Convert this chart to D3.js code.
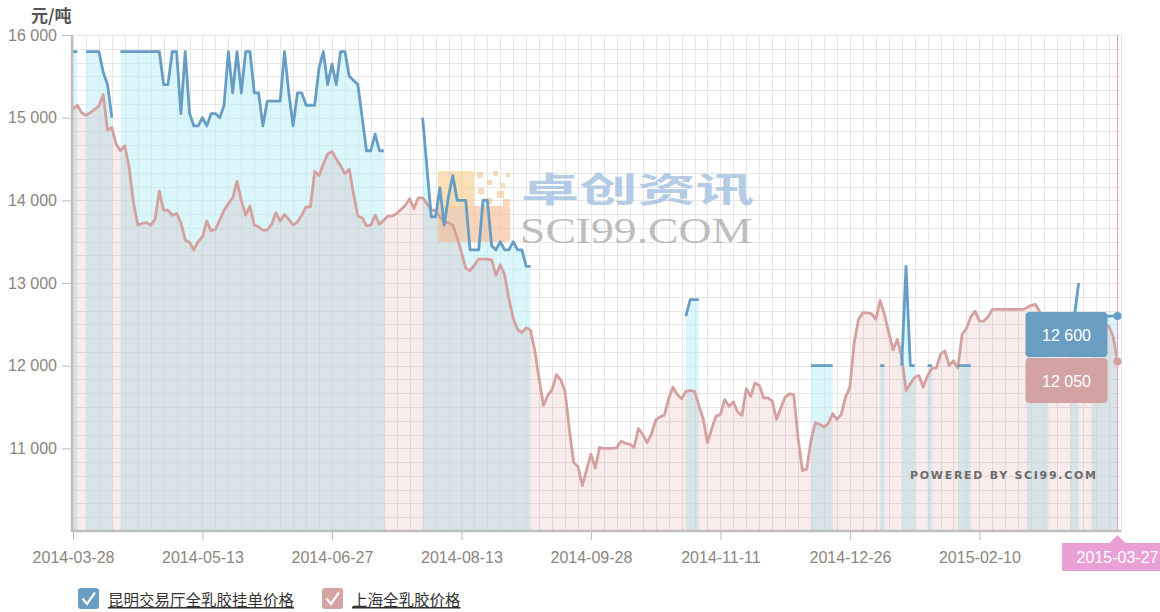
<!DOCTYPE html>
<html>
<head>
<meta charset="utf-8">
<script src="https://cdn.jsdelivr.net/npm/d3@7"></script>
<style>
  body { margin: 0; background: #fff; }
  text { font-family: "Liberation Sans", Arial, sans-serif; }
  .cjk { font-family: "Noto Sans CJK SC", "Liberation Sans", sans-serif; }
</style>
</head>
<body>
<div id="chart"></div>
<script>
// series values, one per trading day (null = no quote)
var kunmingPrice = [
  15800, 15800, null, 15800, 15800, 15800, 15800, 15550, 15400, 15000,
  null, 15800, 15800, 15800, 15800, 15800, 15800, 15800, 15800, 15800,
  15800, 15400, 15400, 15800, 15800, 15050, 15800, 15050, 14900, 14900,
  15000, 14900, 15050, 15050, 15000, 15150, 15800, 15300, 15800, 15300,
  15800, 15800, 15300, 15300, 14900, 15200, 15200, 15200, 15200, 15800,
  15300, 14900, 15300, 15300, 15150, 15150, 15150, 15600, 15800, 15400,
  15650, 15400, 15800, 15800, 15500, 15450, 15400, 15000, 14600, 14600,
  14800, 14600, 14600, null, null, null, null, null, null, null,
  null, 15000, 14400, 13800, 13800, 14150, 13700, 14050, 14300, 14000,
  14000, 14000, 13400, 13400, 13400, 14000, 14000, 13450, 13400, 13500,
  13400, 13400, 13500, 13400, 13400, 13200, 13200, null, null, null,
  null, null, null, null, null, null, null, null, null, null,
  null, null, null, null, null, null, null, null, null, null,
  null, null, null, null, null, null, null, null, null, null,
  null, null, 12600, 12800, 12800, 12800, null, null, null, null,
  null, null, null, null, null, null, null, null, null, null,
  null, null, null, null, null, null, null, null, null, null,
  null, 12000, 12000, 12000, 12000, 12000, 12000, null, null, null,
  null, null, null, null, null, null, null, 12000, 12000, null,
  null, null, 12000, 13200, 12000, 12000, null, null, 12000, 12000,
  null, null, null, null, null, 12000, 12000, 12000, 12000, null,
  null, null, null, null, null, null, null, null, null, null,
  null, 12600, 12600, 12600, 12600, 12600, 12600, null, null, null,
  null, 12600, 12600, 13000, null, null, 12600, 12600, 12600, 12600,
  12600, 12600, 12600
];

var shanghaiPrice = [
  15110, 15150, 15060, 15030, 15060, 15100, 15140, 15280, 14850, 14880,
  14680, 14600, 14660, 14400, 13980, 13700, 13720, 13730, 13700, 13770,
  14110, 13880, 13880, 13820, 13840, 13730, 13520, 13490, 13400, 13500,
  13560, 13750, 13630, 13650, 13760, 13880, 13960, 14030, 14230, 14000,
  13820, 13930, 13700, 13680, 13640, 13640, 13710, 13850, 13750, 13830,
  13770, 13700, 13740, 13820, 13920, 13920, 14350, 14300, 14440, 14560,
  14590, 14500, 14420, 14320, 14380, 14080, 13810, 13790, 13690, 13700,
  13820, 13710, 13760, 13810, 13810, 13840, 13890, 13940, 14020, 13900,
  14030, 14030, 13960, 13880, 13880, 13800, 13740, 13730, 13700, 13550,
  13370, 13180, 13150, 13220, 13290, 13290, 13290, 13280, 13090, 13220,
  13100, 12810, 12570, 12440, 12400, 12460, 12430, 12180, 11840, 11520,
  11640, 11710, 11890, 11830, 11690, 11230, 10830, 10780, 10550, 10740,
  10930, 10760, 11010, 11000, 11000, 11000, 11010, 11090, 11060, 11050,
  11010, 11240, 11170, 11070, 11170, 11340, 11380, 11400, 11600, 11740,
  11650, 11600, 11690, 11700, 11690, 11520, 11360, 11070, 11240, 11390,
  11410, 11590, 11510, 11560, 11440, 11400, 11720, 11630, 11790, 11760,
  11610, 11610, 11570, 11350, 11490, 11620, 11660, 11650, 11120, 10730,
  10750, 11100, 11310, 11290, 11260, 11300, 11420, 11350, 11410, 11620,
  11740, 12280, 12560, 12640, 12640, 12630, 12560, 12790, 12620, 12400,
  12190, 12320, 12110, 11700, 11780, 11860, 11880, 11740, 11880, 11970,
  11970, 12140, 12180, 12000, 12060, 11970, 12380, 12450, 12590, 12660,
  12540, 12540, 12590, 12680, 12680, 12680, 12680, 12680, 12680, 12680,
  12680, 12700, 12730, 12740, 12650, 12550, 12550, 12600, 12600, 12550,
  12500, 12500, 12450, 12500, 12500, 12450, 12450, 12450, 12450, 12450,
  12480, 12350, 12050
];

var tickLabels = ["2014-03-28", "2014-05-13", "2014-06-27", "2014-08-13",
                  "2014-09-28", "2014-11-11", "2014-12-26", "2015-02-10"];
var tickStep = 30;
var lastDate = "2015-03-27";
var yTicks = [11000, 12000, 13000, 14000, 15000, 16000];
var seriesNames = ["昆明交易厅全乳胶挂单价格", "上海全乳胶价格"];
var unitLabel = "元/吨";

var blueLine = "#669dc4", pinkLine = "#d4a19f";

var svgWidth = 1160, svgHeight = 612;
var plotLeft = 72, plotRight = 1121, plotTop = 35, plotBottom = 531;

var svg = d3.select("#chart").append("svg")
  .attr("width", svgWidth)
  .attr("height", svgHeight);

var n = shanghaiPrice.length;
var x = d3.scaleLinear().domain([0, n - 1]).range([73, 1117.5]);
var y = d3.scaleLinear().domain([10000, 16000]).range([plotBottom, plotTop]);

// grid
var grid = svg.append("g").attr("shape-rendering", "crispEdges");
grid.selectAll(".hg")
  .data(d3.range(0, 37).map(k => 10000 + k * 1000 / 6))
  .enter().append("line")
  .attr("x1", plotLeft).attr("x2", plotRight)
  .attr("y1", d => Math.round(y(d)) + 0.5).attr("y2", d => Math.round(y(d)) + 0.5)
  .attr("stroke", "#e6e6e6");
grid.selectAll(".vg")
  .data(d3.range(0, n, 3))
  .enter().append("line")
  .attr("x1", d => Math.round(x(d)) + 0.5).attr("x2", d => Math.round(x(d)) + 0.5)
  .attr("y1", plotTop).attr("y2", plotBottom)
  .attr("stroke", "#e6e6e6");
grid.append("line")
  .attr("x1", plotRight + 0.5).attr("x2", plotRight + 0.5)
  .attr("y1", plotTop).attr("y2", plotBottom)
  .attr("stroke", "#e2e2e2");

// areas
var area = d3.area()
  .defined(d => d != null)
  .x((d, i) => x(i))
  .y0(y(10000))
  .y1(d => y(d));

svg.append("path")
  .datum(kunmingPrice)
  .attr("d", area)
  .attr("fill", "rgb(190,238,248)")
  .attr("fill-opacity", 0.55);

svg.append("path")
  .datum(shanghaiPrice)
  .attr("d", area)
  .attr("fill", "rgb(200,120,120)")
  .attr("fill-opacity", 0.15);

// watermark
var wm = svg.append("g");
wm.append("rect").attr("x", 438).attr("y", 206).attr("width", 72).attr("height", 36)
  .attr("rx", 3).attr("fill", "#f6b98e").attr("opacity", 0.6);
wm.append("rect").attr("x", 438).attr("y", 171).attr("width", 36).attr("height", 37)
  .attr("rx", 3).attr("fill", "#f9cf90").attr("opacity", 0.65);
var bits = [[477, 172, 6], [493, 171, 5], [506, 173, 4], [487, 180, 5], [500, 183, 5],
            [478, 188, 6], [497, 191, 7], [486, 198, 6], [503, 199, 7]];
wm.selectAll(".bit").data(bits).enter().append("rect")
  .attr("x", d => d[0]).attr("y", d => d[1])
  .attr("width", d => d[2]).attr("height", d => d[2])
  .attr("fill", "#f8c68f").attr("opacity", 0.65);
wm.append("text")
  .attr("class", "cjk")
  .attr("x", 521).attr("y", 202)
  .attr("font-size", 34).attr("font-weight", "bold")
  .attr("textLength", 233).attr("lengthAdjust", "spacingAndGlyphs")
  .attr("fill", "#a3c0e2").attr("opacity", 0.8)
  .text("卓创资讯");
wm.append("text")
  .attr("x", 520).attr("y", 243)
  .style("font-family", "'Liberation Serif', 'DejaVu Serif', serif")
  .attr("font-size", 36)
  .attr("textLength", 232).attr("lengthAdjust", "spacingAndGlyphs")
  .attr("fill", "#b3b3b3").attr("opacity", 0.85)
  .text("SCI99.COM");
svg.append("text")
  .attr("x", 910).attr("y", 479)
  .style("font-family", "'DejaVu Sans', Verdana, sans-serif")
  .attr("font-size", 11).attr("font-weight", "bold")
  .attr("textLength", 186).attr("lengthAdjust", "spacing")
  .attr("fill", "#6b6b6b")
  .text("POWERED BY SCI99.COM");

// lines
var line = d3.line()
  .defined(d => d != null)
  .x((d, i) => x(i))
  .y(d => y(d));

svg.append("path")
  .datum(shanghaiPrice)
  .attr("d", line)
  .attr("fill", "none")
  .attr("stroke", pinkLine)
  .attr("stroke-width", 2.8)
  .attr("stroke-linejoin", "round");

svg.append("path")
  .datum(kunmingPrice)
  .attr("d", line)
  .attr("fill", "none")
  .attr("stroke", blueLine)
  .attr("stroke-width", 2.8)
  .attr("stroke-linejoin", "round");

// axes
var leftAxis = d3.axisLeft(y)
  .tickValues(yTicks)
  .tickSize(10)
  .tickPadding(5)
  .tickFormat(d => d3.format(",")(d).replace(",", " "));

var yAxisG = svg.append("g")
  .attr("transform", `translate(${plotLeft}, 0)`)
  .call(leftAxis);
yAxisG.select(".domain").remove();
yAxisG.selectAll("line").attr("stroke", "#bdbdbd");
yAxisG.selectAll("text")
  .attr("fill", "#8a8580")
  .style("font-size", "16px")
  .style("font-family", "'Liberation Sans', Arial, sans-serif");

var bottomAxis = d3.axisBottom(x)
  .tickValues(d3.range(0, tickLabels.length).map(k => k * tickStep))
  .tickSize(9)
  .tickPadding(12)
  .tickFormat((d, i) => tickLabels[i]);

var xAxisG = svg.append("g")
  .attr("transform", `translate(0, ${plotBottom})`)
  .call(bottomAxis);
xAxisG.select(".domain").remove();
xAxisG.selectAll("line").attr("stroke", "#bdbdbd");
xAxisG.selectAll("text")
  .attr("fill", "#8a8580")
  .style("font-size", "16px")
  .style("font-family", "'Liberation Sans', Arial, sans-serif");

svg.append("line")
  .attr("x1", plotLeft).attr("x2", plotLeft)
  .attr("y1", plotTop).attr("y2", plotBottom + 1)
  .attr("stroke", "#bfbfbf").attr("stroke-width", 2.5);
svg.append("line")
  .attr("x1", plotLeft).attr("x2", plotRight)
  .attr("y1", plotBottom).attr("y2", plotBottom)
  .attr("stroke", "#bfbfbf").attr("stroke-width", 2.5);

svg.append("text")
  .attr("class", "cjk")
  .attr("x", 31).attr("y", 22)
  .attr("font-size", 17).attr("font-weight", "bold")
  .attr("fill", "#555")
  .text(unitLabel);

// crosshair on the last day
var last = n - 1;
var cx = x(last);
svg.append("line")
  .attr("x1", cx).attr("x2", cx)
  .attr("y1", plotTop).attr("y2", plotBottom)
  .attr("stroke", "#e79ad0").attr("stroke-width", 1);

svg.append("circle").attr("cx", cx).attr("cy", y(kunmingPrice[last]))
  .attr("r", 4).attr("fill", blueLine);
svg.append("circle").attr("cx", cx).attr("cy", y(shanghaiPrice[last]))
  .attr("r", 4).attr("fill", pinkLine);

// split tooltip boxes
var boxW = 82, boxH = 45;
var boxX = cx - 10 - boxW;
var blueTop = y(kunmingPrice[last]) - 4;
var pinkTop = Math.max(y(shanghaiPrice[last]) - 4, blueTop + boxH + 1);
[[blueTop, "#6a9dc2", kunmingPrice[last]], [pinkTop, "#d2a3a2", shanghaiPrice[last]]].forEach(b => {
  svg.append("rect")
    .attr("x", boxX).attr("y", b[0])
    .attr("width", boxW).attr("height", boxH)
    .attr("rx", 4).attr("fill", b[1]);
  svg.append("text")
    .attr("x", boxX + boxW / 2).attr("y", b[0] + boxH / 2 + 6)
    .attr("text-anchor", "middle")
    .attr("font-size", 16)
    .attr("fill", "#fff")
    .text(d3.format(",")(b[2]).replace(",", " "));
});

// date label under the crosshair
svg.append("path")
  .attr("d", `M${cx - 8},543 L${cx},535 L${cx + 8},543 Z`)
  .attr("fill", "#e9a0d4");
svg.append("rect")
  .attr("x", 1062).attr("y", 543)
  .attr("width", 110).attr("height", 28)
  .attr("fill", "#e9a0d4");
svg.append("text")
  .attr("x", cx).attr("y", 563)
  .attr("text-anchor", "middle")
  .attr("font-size", 16)
  .attr("fill", "#fff")
  .text(lastDate);

// legend
var legendItems = [
  { name: seriesNames[0], color: "#6a9dc2", x: 78 },
  { name: seriesNames[1], color: "#d4a4a2", x: 322 }
];
var legend = svg.selectAll(".legend")
  .data(legendItems)
  .enter().append("g")
  .attr("transform", d => `translate(${d.x}, 588)`);
legend.append("rect")
  .attr("width", 21).attr("height", 21).attr("rx", 3)
  .attr("fill", d => d.color);
legend.append("path")
  .attr("d", "M4.5,10.5 L9,16 L17,4.5")
  .attr("fill", "none")
  .attr("stroke", "#fff")
  .attr("stroke-width", 2.2);
legend.append("text")
  .attr("class", "cjk")
  .attr("x", 30).attr("y", 18)
  .attr("font-size", 15.5)
  .attr("fill", "#333")
  .style("text-decoration", "underline")
  .text(d => d.name);
</script>
</body>
</html>
